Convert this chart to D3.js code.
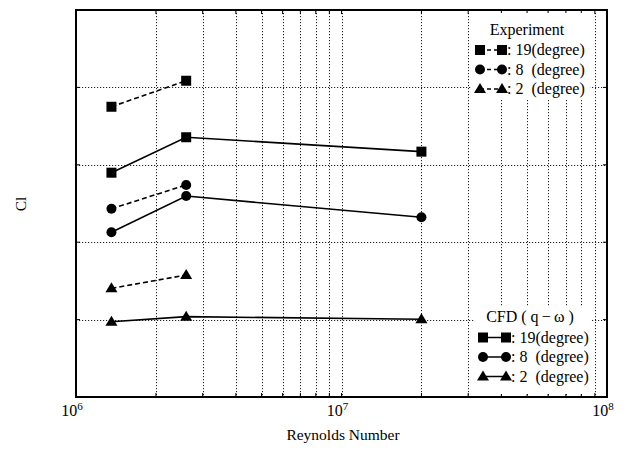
<!DOCTYPE html>
<html><head><meta charset="utf-8">
<script src="https://cdn.jsdelivr.net/npm/d3@7"></script>
<style>body{margin:0;background:#fff;} svg{display:block;font-family:"Liberation Serif","Times New Roman",serif;} text{white-space:pre;}</style>
</head><body>
<svg id="c" width="626" height="455"></svg>
<script>
// Data
const reynolds = [1.36e6, 2.6e6, 2.0e7];
const expReynolds = [1.36e6, 2.6e6];
const exp19 = [1.875, 2.043];
const exp8 = [1.216, 1.370];
const exp2 = [0.702, 0.788];
const cfd19 = [1.449, 1.678, 1.585];
const cfd8 = [1.064, 1.298, 1.161];
const cfd2 = [0.486, 0.519, 0.502];
const xMajorTicks = [1e6, 1e7, 1e8];
const xTickExponents = ["6", "7", "8"];
const yGridValues = [0.5, 1.0, 1.5, 2.0];
const legendLabels = ["19(degree)", "8  (degree)", "2  (degree)"];

const svg = d3.select("#c");
const L = 76, R = 607, T = 10, B = 397;
const x = d3.scaleLog().domain([1e6, 1e8]).range([L, R]);
const y = d3.scaleLinear().domain([0, 2.5]).range([B, T]);

// grid
const minor = [];
for (let e = 6; e < 8; e++) for (let k = 2; k <= 9; k++) minor.push(k * Math.pow(10, e));
const grid = svg.append("g").attr("stroke", "#222").attr("stroke-width", 1).attr("stroke-dasharray", "1.2,1.8");
grid.selectAll("line.v").data(minor.concat([1e7])).join("line")
  .attr("x1", d => Math.round(x(d)) + 0.5).attr("x2", d => Math.round(x(d)) + 0.5).attr("y1", T).attr("y2", B);
grid.selectAll("line.h").data(yGridValues).join("line")
  .attr("y1", d => Math.round(y(d)) + 0.5).attr("y2", d => Math.round(y(d)) + 0.5).attr("x1", L).attr("x2", R);

// small ticks on top and bottom
const tk = svg.append("g").attr("stroke", "#000").attr("stroke-width", 1);
tk.selectAll("line.t").data(minor.concat([1e7])).join("line")
  .attr("x1", d => x(d)).attr("x2", d => x(d)).attr("y1", T).attr("y2", T + 4);
tk.selectAll("line.b").data(minor.concat([1e7])).join("line")
  .attr("x1", d => x(d)).attr("x2", d => x(d)).attr("y1", B).attr("y2", B - 4);
tk.selectAll("line.l").data(yGridValues).join("line")
  .attr("x1", L).attr("x2", L + 4).attr("y1", d => y(d)).attr("y2", d => y(d));
tk.selectAll("line.r").data(yGridValues).join("line")
  .attr("x1", R).attr("x2", R - 4).attr("y1", d => y(d)).attr("y2", d => y(d));

// legend backgrounds (hide grid)
svg.append("rect").attr("x", 472).attr("y", T + 3).attr("width", 118).attr("height", 87).attr("fill", "#fff");
svg.append("rect").attr("x", 475).attr("y", 307).attr("width", 117).attr("height", B - 307 - 3).attr("fill", "#fff");

// frame
svg.append("rect").attr("x", L).attr("y", T).attr("width", R - L).attr("height", B - T)
  .attr("fill", "none").attr("stroke", "#000").attr("stroke-width", 2);

// tick labels
const tl = svg.append("g").attr("font-size", 16).attr("fill", "#000");
xMajorTicks.forEach((v, i) => {
  const t = tl.append("text").attr("x", x(v) - 4).attr("y", 416).attr("text-anchor", "middle");
  t.append("tspan").text("10");
  t.append("tspan").attr("dy", -6).attr("font-size", 11).text(xTickExponents[i]);
});
svg.append("text").attr("x", 343).attr("y", 440).attr("text-anchor", "middle").attr("font-size", 15.5).text("Reynolds Number");
svg.append("text").attr("transform", "translate(26,204) rotate(-90)").attr("text-anchor", "middle").attr("font-size", 15.5).text("Cl");

// markers
function marker(g, type, cx, cy) {
  if (type === "square") g.append("rect").attr("x", cx - 5).attr("y", cy - 5).attr("width", 10).attr("height", 10).attr("fill", "#000");
  else if (type === "circle") g.append("circle").attr("cx", cx).attr("cy", cy).attr("r", 5).attr("fill", "#000");
  else g.append("path").attr("d", `M${cx},${cy - 6}L${cx + 6},${cy + 4}L${cx - 6},${cy + 4}Z`).attr("fill", "#000");
}
const line = d3.line().x(d => x(d[0])).y(d => y(d[1]));
const series = [
  {xs: expReynolds, ys: exp19, m: "square", dash: "5,3"},
  {xs: expReynolds, ys: exp8, m: "circle", dash: "5,3"},
  {xs: expReynolds, ys: exp2, m: "triangle", dash: "5,3"},
  {xs: reynolds, ys: cfd19, m: "square", dash: null},
  {xs: reynolds, ys: cfd8, m: "circle", dash: null},
  {xs: reynolds, ys: cfd2, m: "triangle", dash: null},
];
const sg = svg.append("g");
series.forEach(s => {
  const pts = s.xs.map((v, i) => [v, s.ys[i]]);
  sg.append("path").attr("d", line(pts)).attr("fill", "none").attr("stroke", "#000").attr("stroke-width", 1.6)
    .attr("stroke-dasharray", s.dash);
  pts.forEach(p => marker(sg, s.m, x(p[0]), y(p[1])));
});

// legends
function legend(title, tx, ty, rows0, m1, m2, dash) {
  const g = svg.append("g");
  g.append("text").attr("x", tx).attr("y", ty).attr("text-anchor", "middle").attr("font-size", 16).text(title);
  ["square", "circle", "triangle"].forEach((m, i) => {
    const cy = rows0 + i * 19.5;
    g.append("line").attr("x1", m1).attr("x2", m2).attr("y1", cy).attr("y2", cy).attr("stroke", "#000")
      .attr("stroke-width", 1.5).attr("stroke-dasharray", dash);
    marker(g, m, m1, cy);
    marker(g, m, m2, cy);
    g.append("text").attr("x", m2 + 5).attr("y", cy + 5).attr("font-size", 16).text(": " + legendLabels[i]);
  });
}
legend("Experiment", 527, 35, 50, 480, 502, "4,3");
legend("CFD ( q\u2009\u2212\u2009\u03c9 )", 530, 322, 337.5, 483, 506, null);
</script>
</body></html>
